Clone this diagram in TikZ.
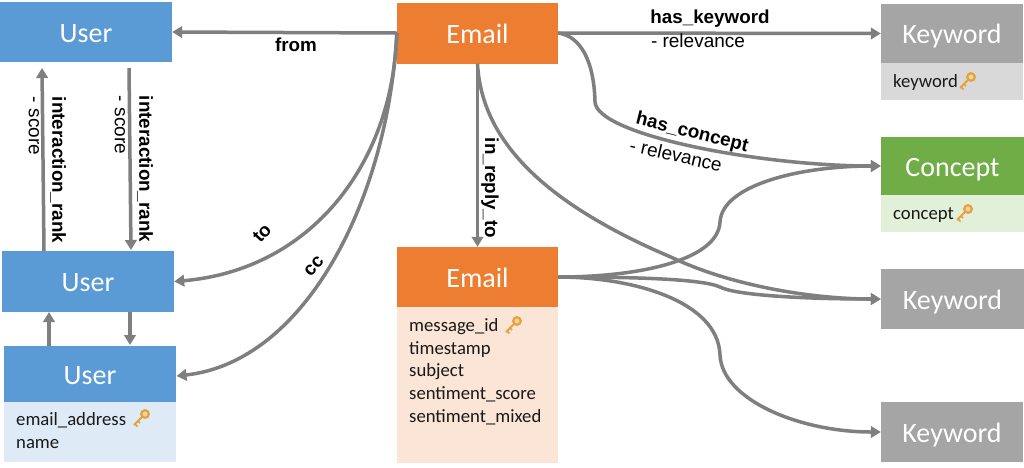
\documentclass[tikz,border=0pt]{standalone}
\usepackage{fontspec}
\setmainfont{Carlito}
\newfontfamily\arialfont{Liberation Sans}
\usetikzlibrary{arrows.meta}
\definecolor{ublue}{HTML}{5B9BD5}
\definecolor{ublueb}{HTML}{DEEAF6}
\definecolor{eor}{HTML}{ED7D31}
\definecolor{eorb}{HTML}{FBE5D6}
\definecolor{kgray}{HTML}{A5A5A5}
\definecolor{kgrayb}{HTML}{D9D9D9}
\definecolor{cgreen}{HTML}{70AD47}
\definecolor{cgreenb}{HTML}{E2F0D9}
\definecolor{edgec}{HTML}{7F7F7F}
\definecolor{keyc}{HTML}{E5A23C}
\tikzset{
  head/.style={rectangle,inner sep=0pt,text=white,text height=20pt,text depth=0pt,font=\fontsize{28}{32}\selectfont},
  bodybox/.style={rectangle,inner sep=0pt,anchor=north west},
  attr/.style={inner sep=0pt,anchor=north west,align=left,text=black!90,font=\fontsize{18.7}{22.9}\selectfont},
  edge/.style={draw=edgec,line width=3.5pt,-{Triangle[length=10pt,width=11.5pt]}},
  lab/.style={inner sep=0pt,font=\arialfont\bfseries\fontsize{18.8}{21}\selectfont},
  sublab/.style={inner sep=0pt,font=\arialfont\fontsize{19}{21}\selectfont},
  keyicon/.pic={
    \draw[keyc,line width=2pt] (0,0) -- (9,-9);
    \draw[keyc,line width=1.6pt] (1,-1) -- (3.5,1.5);
    \draw[keyc,line width=1.6pt] (4,-4) -- (6,-2);
    \draw[keyc,line width=2.2pt,fill=keyc!45] (11,-11) circle (3.8);
  }
}
\begin{document}
\begin{tikzpicture}[x=1pt,y=-1pt]
\useasboundingbox (0,0) rectangle (1024,467);
\fill[white] (0,0) rectangle (1024,467);
% headers
\node[head,fill=ublue,minimum width=172pt,minimum height=60pt] (user1) at (86,32) {User};
\node[head,fill=ublue,minimum width=172pt,minimum height=61pt] (user2) at (88,281.5) {User};
\node[head,fill=ublue,minimum width=172pt,minimum height=56pt] (user3) at (90,374) {User};
\node[bodybox,fill=ublueb,minimum width=172pt,minimum height=60pt] (user3b) at (4,402) {};
\node[head,fill=eor,minimum width=161pt,minimum height=61pt] (email1) at (477.5,33) {Email};
\node[head,fill=eor,minimum width=161pt,minimum height=60pt] (email2) at (477.5,277) {Email};
\node[bodybox,fill=eorb,minimum width=161pt,minimum height=156pt] (email2b) at (397,307) {};
\node[head,fill=kgray,minimum width=142pt,minimum height=60pt] (kw1) at (952,33.5) {Keyword};
\node[bodybox,fill=kgrayb,minimum width=142pt,minimum height=37pt] (kw1b) at (881,63) {};
\node[head,fill=cgreen,minimum width=143pt,minimum height=59pt] (concept) at (952.5,166) {Concept};
\node[bodybox,fill=cgreenb,minimum width=143pt,minimum height=37pt] (conceptb) at (881,195) {};
\node[head,fill=kgray,minimum width=143pt,minimum height=60pt] (kw2) at (952.5,299) {Keyword};
\node[head,fill=kgray,minimum width=142pt,minimum height=60pt] (kw3) at (952,432) {Keyword};
% attributes
\node[attr] (a1) at (16,412) {email\_address\\name};
\node[attr] (a2) at (409,318) {message\_id\\timestamp\\subject\\sentiment\_score\\sentiment\_mixed};
\node[attr] (a3) at (893,74) {keyword};
\node[attr] (a4) at (893,207) {concept};
\pic at (134,425) {keyicon};
\pic at (506,332) {keyicon};
\pic at (960,88) {keyicon};
\pic at (957,220) {keyicon};
% free ends
\coordinate (ia) at (44,251);
\coordinate (ib) at (42,68);
\coordinate (ic) at (129,68);
\coordinate (id) at (131,250);
\coordinate (ie) at (49,346);
\coordinate (if) at (49,312);
\coordinate (ig) at (130,312);
\coordinate (ih) at (130,345);
% connectors
\draw[edge] (email1.west) -- (user1.east);
\draw[edge] (ia) -- (ib);
\draw[edge] (ic) -- (id);
\draw[edge] (ie) -- (if);
\draw[edge] (ig) -- (ih);
\draw[edge] (email1.west) .. controls (393,165) and (310,270) .. (user2.east);
\draw[edge] (email1.west) .. controls (388,200) and (305,362) .. (176.5,376);
\draw[edge] (email1.south) -- (email2.north);
\draw[edge] (email1.east) -- (kw1.west);
\draw[edge] (email1.east) .. controls (580,36) and (594,60) .. (595,102) .. controls (597,135) and (760,166) .. (concept.west);
\draw[edge] (email1.south) .. controls (482,150) and (560,210) .. (673,258) .. controls (730,285) and (810,299) .. (kw2.west);
\draw[edge] (email2.east) .. controls (640,277) and (718,260) .. (720,222) .. controls (722,185) and (800,166) .. (concept.west);
\draw[edge] (email2.east) .. controls (620,277) and (700,278) .. (720,287) .. controls (735,295) and (800,299) .. (kw2.west);
\draw[edge] (email2.east) .. controls (630,277) and (718,300) .. (720,355) .. controls (722,400) and (800,432) .. (kw3.west);
% labels
\node[lab] (lfrom) at (296,45) {from};
\node[lab,rotate=-90] (lir1) at (58,170) {interaction\_rank};
\node[sublab,rotate=-90] (ls1) at (34,126) {- score};
\node[lab,rotate=-90] (lir2) at (145,169) {interaction\_rank};
\node[sublab,rotate=-90] (ls2) at (120,125) {- score};
\node[lab,rotate=47] (lto) at (262,233) {to};
\node[lab,rotate=47] (lcc) at (314,266) {cc};
\node[lab,rotate=-90] (lrep) at (490,188) {in\_reply\_to};
\node[lab] (lkw) at (710,19) {has\_keyword};
\node[sublab] (lkwr) at (698,41) {- relevance};
\node[lab,rotate=-14] (lcon) at (692,133) {has\_concept};
\node[sublab,rotate=-13] (lconr) at (676,155) {- relevance};
\end{tikzpicture}
\end{document}
